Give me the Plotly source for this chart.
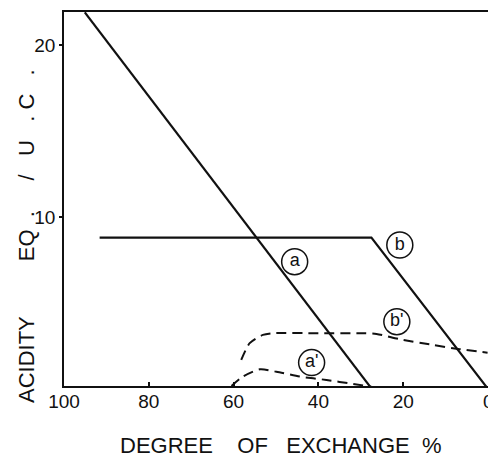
import plotly.graph_objects as go

# Degree of exchange (%) and acidity (eq. / u.c.) for each curve
a_x = [95.1, 27.4]
a_y = [21.9, 0.0]

b_x = [91.6, 27.5, 0.0]
b_y = [8.8, 8.8, 0.0]

bp_x = [58.2, 56.2, 53.1, 50.7, 40.0, 30.3, 26.3, 20.8, 13.0, 6.7, 0.1]
bp_y = [1.69, 2.66, 3.14, 3.24, 3.24, 3.24, 3.2, 2.89, 2.56, 2.31, 2.11]

ap_x = [60.5, 57.8, 53.8, 49.9, 44.4, 38.1, 31.8, 27.5]
ap_y = [0.17, 0.72, 1.14, 1.0, 0.72, 0.52, 0.29, 0.13]

# Circled curve labels
lab_text = ["a", "b", "b'", "a'"]
lab_x = [45.6, 20.8, 21.5, 41.6]
lab_y = [7.4, 8.37, 3.91, 1.53]

x_ticks = [100, 80, 60, 40, 20]
x_edge_tick = 0
y_ticks = [10, 20]

FONT = "Liberation Sans"
INK = "#111111"

fig = go.Figure()

solid = dict(color=INK, width=2.2)
dashed = dict(color=INK, width=2, dash="10px,6px", shape="spline", smoothing=0.7)

fig.add_trace(go.Scatter(x=a_x, y=a_y, mode="lines", line=solid))
fig.add_trace(go.Scatter(x=b_x, y=b_y, mode="lines", line=solid))
fig.add_trace(go.Scatter(x=bp_x, y=bp_y, mode="lines", line=dashed))
fig.add_trace(go.Scatter(x=ap_x, y=ap_y, mode="lines", line=dashed))

fig.add_trace(go.Scatter(
    x=lab_x, y=lab_y, mode="markers+text", text=lab_text,
    textposition="middle center",
    textfont=dict(family=FONT, size=18, color=INK),
    marker=dict(symbol="circle-open", size=26, color=INK, line=dict(width=1.5, color=INK)),
    cliponaxis=False,
))

nb = "\u00a0"
y_title = ("ACIDITY" + nb * 9 + "EQ" + nb * 2 + "." + nb * 5 + "/" + nb * 3 +
           "U" + nb * 3 + "." + nb + "C" + nb * 3 + ".")
x_title = "DEGREE" + nb * 4 + "OF" + nb * 3 + "EXCHANGE" + nb * 2 + "%"

fig.add_annotation(
    text=y_title, textangle=-90, showarrow=False,
    xref="paper", yref="paper", x=(27 - 64) / 424, y=(386 - 236) / 374,
    xanchor="center", yanchor="middle",
    font=dict(family=FONT, size=22, color=INK),
)
fig.add_annotation(
    text=x_title, showarrow=False,
    xref="paper", yref="paper", x=(281 - 64) / 424, y=-(445 - 386) / 374,
    xanchor="center", yanchor="middle",
    font=dict(family=FONT, size=22, color=INK),
)
# tick label at the right edge of the axis, partly beyond the page
fig.add_annotation(
    text=str(x_edge_tick), showarrow=False,
    xref="x", yref="paper", x=x_edge_tick, y=-(401 - 386) / 374,
    xanchor="center", yanchor="middle",
    font=dict(family=FONT, size=19, color=INK),
)

fig.update_layout(
    width=488, height=458,
    margin=dict(l=64, r=0, t=12, b=72),
    paper_bgcolor="white", plot_bgcolor="white",
    showlegend=False,
    font=dict(family=FONT, size=19, color=INK),
)
fig.update_xaxes(
    range=[100, 0], tickvals=x_ticks, ticktext=[str(v) for v in x_ticks],
    showgrid=False, zeroline=False,
    showline=True, linecolor=INK, linewidth=1.5, mirror=True,
    ticks="inside", ticklen=4, tickcolor=INK, tickwidth=1.5,
    ticklabelstandoff=-3,
    tickfont=dict(family=FONT, size=19, color=INK),
)
fig.update_yaxes(
    range=[0.17, 21.92], tickvals=y_ticks, ticktext=[str(v) for v in y_ticks],
    showgrid=False, zeroline=False,
    showline=True, linecolor=INK, linewidth=1.5, mirror=False,
    ticks="outside", ticklen=3, tickcolor=INK, tickwidth=1.5,
    tickfont=dict(family=FONT, size=19, color=INK),
)

fig.write_html("out.html")
